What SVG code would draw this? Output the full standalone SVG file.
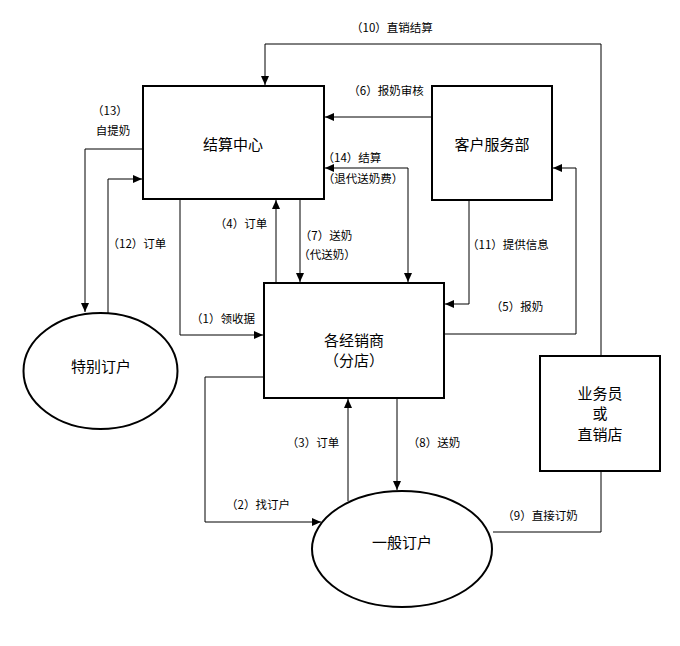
<svg xmlns="http://www.w3.org/2000/svg" width="680" height="646" viewBox="0 0 680 646">
<style>
.box{fill:#fff;stroke:#000;stroke-width:2}
.nt{font-family:"Noto Sans CJK SC","Liberation Sans",sans-serif;font-size:15px;text-anchor:middle;fill:#000}
.lb{font-family:"Noto Sans CJK SC","Liberation Sans",sans-serif;font-size:11.5px;text-anchor:middle;fill:#000}
.c{fill:none;stroke:#000;stroke-width:1}
</style>
<defs>
<marker id="arr" markerWidth="10" markerHeight="8" refX="9" refY="4" orient="auto-start-reverse" markerUnits="userSpaceOnUse"><path d="M0,0 L9,4 L0,8 z" fill="#000"/></marker>
</defs>
<rect width="680" height="646" fill="#fff"/>
<g id="connectors">
<path class="c" d="M601,356 V44 H265 V85" marker-end="url(#arr)"/>
<path class="c" d="M432,117 H325" marker-end="url(#arr)"/>
<path class="c" d="M143,149 H85 V312" marker-end="url(#arr)"/>
<path class="c" d="M108,314 V179 H142" marker-end="url(#arr)"/>
<path class="c" d="M180,199 V335 H263" marker-end="url(#arr)"/>
<path class="c" d="M276,283 V200" marker-end="url(#arr)"/>
<path class="c" d="M300,199 V282" marker-end="url(#arr)"/>
<path class="c" d="M325,168 H408 V282" marker-start="url(#arr)" marker-end="url(#arr)"/>
<path class="c" d="M469,200 V304 H445" marker-end="url(#arr)"/>
<path class="c" d="M444,334 H576 V168 H553" marker-end="url(#arr)"/>
<path class="c" d="M264,377 H205 V522 H321" marker-end="url(#arr)"/>
<path class="c" d="M348,501 V399" marker-end="url(#arr)"/>
<path class="c" d="M397,398 V490" marker-end="url(#arr)"/>
<path class="c" d="M601,471 V532 H493"/>
</g>
<g id="labels">
<text class="lb" x="392" y="32">（10）直销结算</text>
<text class="lb" x="386" y="95">（6）报奶审核</text>
<text class="lb" x="110" y="115">（13）</text>
<text class="lb" x="113" y="135">自提奶</text>
<text class="lb" x="137" y="248">（12）订单</text>
<text class="lb" x="223" y="323">（1）领收据</text>
<text class="lb" x="241" y="228">（4）订单</text>
<text class="lb" x="326" y="240">（7）送奶</text>
<text class="lb" x="327" y="259">（代送奶）</text>
<text class="lb" x="352" y="162">（14）结算</text>
<text class="lb" x="363" y="183">（退代送奶费）</text>
<text class="lb" x="508" y="249">（11）提供信息</text>
<text class="lb" x="517" y="311">（5）报奶</text>
<text class="lb" x="258" y="509">（2）找订户</text>
<text class="lb" x="313" y="447">（3）订单</text>
<text class="lb" x="434" y="447">（8）送奶</text>
<text class="lb" x="540" y="520">（9）直接订奶</text>
</g>
<g id="settlement">
<rect class="box" x="143" y="86" width="181" height="113"/>
<text class="nt" x="233" y="150">结算中心</text>
</g>
<g id="customer-service">
<rect class="box" x="432" y="86" width="120" height="114"/>
<text class="nt" x="492" y="150">客户服务部</text>
</g>
<g id="distributor">
<rect class="box" x="264" y="283" width="180" height="115"/>
<text class="nt" x="354" y="346">各经销商</text>
<text class="nt" x="354" y="366">（分店）</text>
</g>
<g id="salesman">
<rect class="box" x="540" y="356" width="120" height="115"/>
<text class="nt" x="600" y="399">业务员</text>
<text class="nt" x="600" y="419">或</text>
<text class="nt" x="600" y="440">直销店</text>
</g>
<g id="special-customer">
<ellipse class="box" cx="100.5" cy="371" rx="77" ry="58"/>
<text class="nt" x="101" y="372">特别订户</text>
</g>
<g id="general-customer">
<ellipse class="box" cx="402" cy="549" rx="90" ry="58"/>
<text class="nt" x="402" y="548">一般订户</text>
</g>
</svg>
